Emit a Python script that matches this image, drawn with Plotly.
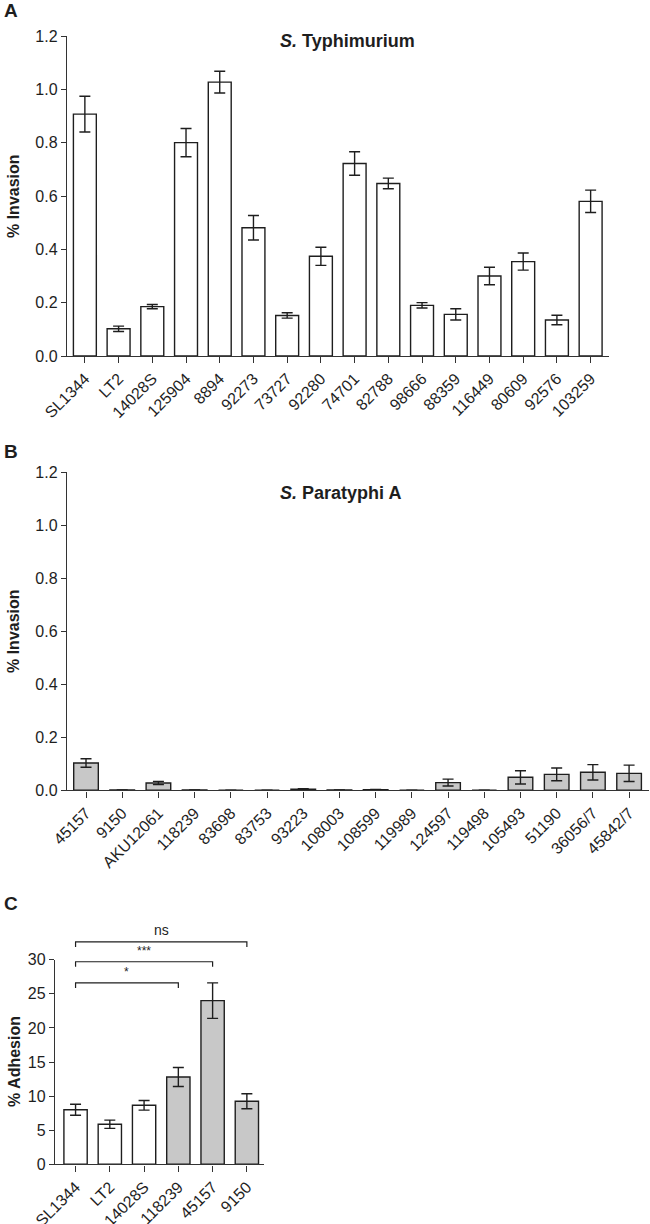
import plotly.graph_objects as go

# ---------------- data ----------------
cats_a = ["SL1344", "LT2", "14028S", "125904", "8894", "92273", "73727", "92280",
          "74701", "82788", "98666", "88359", "116449", "80609", "92576", "103259"]
vals_a = [0.907, 0.102, 0.185, 0.800, 1.027, 0.481, 0.152, 0.374,
          0.722, 0.647, 0.190, 0.156, 0.300, 0.354, 0.135, 0.580]
err_a = [0.067, 0.010, 0.008, 0.053, 0.041, 0.046, 0.010, 0.034,
         0.044, 0.020, 0.010, 0.021, 0.033, 0.032, 0.018, 0.042]

cats_b = ["45157", "9150", "AKU12061", "118239", "83698", "83753", "93223", "108003",
          "108599", "119989", "124597", "119498", "105493", "51190", "36056/7", "45842/7"]
vals_b = [0.103, 0.001, 0.0275, 0.001, 0.0, 0.0, 0.004, 0.001,
          0.002, 0.0, 0.029, 0.0, 0.049, 0.060, 0.068, 0.064]
err_b = [0.016, 0.0, 0.006, 0.0, 0.0, 0.0, 0.002, 0.0,
         0.001, 0.0, 0.013, 0.0, 0.025, 0.024, 0.029, 0.031]

cats_c = ["SL1344", "LT2", "14028S", "118239", "45157", "9150"]
vals_c = [8.0, 5.87, 8.65, 12.8, 24.0, 9.24]
err_c = [0.8, 0.6, 0.7, 1.4, 2.6, 1.1]
group_c = ["Typhimurium", "Typhimurium", "Typhimurium", "Paratyphi", "Paratyphi", "Paratyphi"]

sig_pairs = [(0, 3), (0, 4), (0, 5)]
sig_levels = [26.6, 29.7, 32.6]
sig_labels = ["*", "***", "ns"]

# ---------------- style ----------------
W, H = 650, 1224
INK = "#1e1e1e"
AX = "#333333"
GRAY = "#c8c8c8"
FONT = "Liberation Sans, Arial, sans-serif"

def px_x(p):
    return p / W

def px_y(p):
    return 1 - p / H

dom_xa = [px_x(67), px_x(608.5)]
dom_ya = [px_y(356), px_y(36)]
rng_xa = [-0.53, 15.53]

dom_xb = [px_x(67), px_x(649)]
dom_yb = [px_y(790.3), px_y(472.3)]
rng_xb = [-0.525, 15.55]

dom_xc = [px_x(55), px_x(264)]
dom_yc = [px_y(1164.3), px_y(959.7)]
rng_xc = [-0.6, 5.5]
rng_yc = [0, 30]

fig = go.Figure()

def bar_trace(cats, vals, errs, colors, xa, ya):
    return go.Bar(
        x=cats, y=vals,
        width=0.68,
        marker=dict(color=colors, line=dict(color=INK, width=1.4)),
        error_y=dict(type="data", array=errs, visible=True, color=INK,
                     thickness=1.4, width=5.5),
        xaxis=xa, yaxis=ya, showlegend=False, hoverinfo="x+y",
    )

fig.add_trace(bar_trace(cats_a, vals_a, err_a, "white", "x", "y"))
fig.add_trace(bar_trace(cats_b, vals_b, err_b, GRAY, "x2", "y2"))
colors_c = ["white" if g == "Typhimurium" else GRAY for g in group_c]
fig.add_trace(bar_trace(cats_c, vals_c, err_c, colors_c, "x3", "y3"))

tickfont = dict(family=FONT, size=16, color=INK)

def xaxis(domain, rng, anchor):
    return dict(domain=domain, range=rng, anchor=anchor, type="category",
                automargin=False,
                showline=True, linecolor=AX, linewidth=1.4,
                ticks="outside", ticklen=6, tickwidth=1.4, tickcolor=AX,
                tickangle=-45, tickfont=tickfont, showgrid=False, zeroline=False,
                fixedrange=True)

def yaxis(domain, rng, anchor, dtick, fmt):
    return dict(domain=domain, range=rng, anchor=anchor,
                automargin=False,
                showline=True, linecolor=AX, linewidth=1.4,
                ticks="outside", ticklen=5, tickwidth=1.4, tickcolor=AX,
                dtick=dtick, tick0=0, tickformat=fmt, tickfont=tickfont,
                showgrid=False, zeroline=False, fixedrange=True)

fig.update_layout(
    template="none",
    width=W, height=H,
    margin=dict(l=0, r=0, t=0, b=0),
    paper_bgcolor="white", plot_bgcolor="white",
    font=dict(family=FONT, color=INK),
    bargap=0.32,
    xaxis=xaxis(dom_xa, rng_xa, "y"),
    yaxis=yaxis(dom_ya, [0, 1.2], "x", 0.2, ".1f"),
    xaxis2=xaxis(dom_xb, rng_xb, "y2"),
    yaxis2=yaxis(dom_yb, [0, 1.2], "x2", 0.2, ".1f"),
    xaxis3=xaxis(dom_xc, rng_xc, "y3"),
    yaxis3=yaxis(dom_yc, rng_yc, "x3", 5, "d"),
)

annotations = []
# panel letters
for letter, ypx in [("A", 11), ("B", 451), ("C", 903)]:
    annotations.append(dict(text=f"<b>{letter}</b>", x=px_x(2), y=px_y(ypx), xref="paper", yref="paper",
                            xanchor="left", yanchor="middle", showarrow=False,
                            font=dict(family=FONT, size=19, color=INK)))
# panel titles
annotations.append(dict(text="<b><i>S.</i> Typhimurium</b>", x=px_x(347), y=px_y(41),
                        xref="paper", yref="paper", xanchor="center", yanchor="middle",
                        showarrow=False, font=dict(family=FONT, size=18, color=INK)))
annotations.append(dict(text="<b><i>S.</i> Paratyphi A</b>", x=px_x(340), y=px_y(493),
                        xref="paper", yref="paper", xanchor="center", yanchor="middle",
                        showarrow=False, font=dict(family=FONT, size=18, color=INK)))
# y titles
for txt, ypx in [("% Invasion", 196), ("% Invasion", 631), ("% Adhesion", 1062)]:
    annotations.append(dict(text=f"<b>{txt}</b>", x=px_x(14), y=px_y(ypx), xref="paper", yref="paper",
                            xanchor="center", yanchor="middle", textangle=-90, showarrow=False,
                            font=dict(family=FONT, size=16, color=INK)))

# significance brackets in panel C
def cx(i):
    return dom_xc[0] + (i - rng_xc[0]) / (rng_xc[1] - rng_xc[0]) * (dom_xc[1] - dom_xc[0])

def cy(v):
    return dom_yc[0] + (v - rng_yc[0]) / (rng_yc[1] - rng_yc[0]) * (dom_yc[1] - dom_yc[0])

shapes = []
drop = 5 / H
for (i0, i1), lvl, lab in zip(sig_pairs, sig_levels, sig_labels):
    x0, x1, yb = cx(i0), cx(i1), cy(lvl)
    shapes.append(dict(type="path", xref="paper", yref="paper",
                       path=f"M {x0},{yb - drop} L {x0},{yb} L {x1},{yb} L {x1},{yb - drop}",
                       line=dict(color=INK, width=1.2)))
    fs = 14 if lab == "ns" else 12
    annotations.append(dict(text=lab, x=(x0 + x1) / 2, y=yb + 2 / H, xref="paper", yref="paper",
                            xanchor="center", yanchor="bottom", showarrow=False,
                            font=dict(family=FONT, size=fs, color=INK)))

fig.update_layout(annotations=annotations, shapes=shapes)

fig.write_html(
    "out.html",
    config={"displayModeBar": False},
    post_script="document.body.style.margin='0';document.body.style.overflow='hidden';",
)
